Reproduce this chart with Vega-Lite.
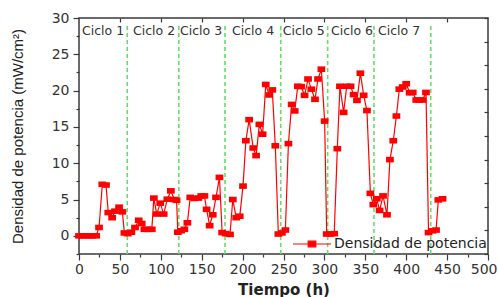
{
  "$schema": "https://vega.github.io/schema/vega-lite/v6.json",
  "width": 409,
  "height": 236,
  "autosize": "none",
  "padding": {"left": 79, "top": 18, "right": 10, "bottom": 43},
  "config": {
    "view": {"stroke": "#3a3a3a", "strokeWidth": 1.5},
    "axis": {"domain": false, "grid": false, "tickColor": "#3a3a3a", "tickWidth": 1.2, "labelColor": "#333", "titleColor": "#222", "labelFont": "DejaVu Sans", "labelFontSize": 14, "titleFont": "DejaVu Sans", "labelFlush": false, "labelOverlap": false},
    "font": "DejaVu Sans"
  },
  "datasets": {
    "pd": [
      {"t": 0, "p": 0}, {"t": 4, "p": 0}, {"t": 8, "p": 0}, {"t": 12, "p": 0}, {"t": 16, "p": 0}, {"t": 21, "p": 0},
      {"t": 24.5, "p": 1.15}, {"t": 28.5, "p": 7.1}, {"t": 33, "p": 7.0}, {"t": 35.8, "p": 3.2}, {"t": 40.5, "p": 2.5},
      {"t": 44, "p": 3.4}, {"t": 49, "p": 3.95}, {"t": 53, "p": 3.3}, {"t": 55.5, "p": 0.4}, {"t": 59.5, "p": 0.3},
      {"t": 64, "p": 0.5}, {"t": 68.5, "p": 1.15}, {"t": 73, "p": 2.15}, {"t": 76.6, "p": 1.7}, {"t": 80, "p": 0.9},
      {"t": 84.5, "p": 0.9}, {"t": 89, "p": 0.9}, {"t": 91.5, "p": 5.2}, {"t": 95, "p": 3.0}, {"t": 99.3, "p": 4.5},
      {"t": 103.5, "p": 3.0}, {"t": 108, "p": 5.05}, {"t": 112.3, "p": 6.2}, {"t": 116.5, "p": 5.0}, {"t": 119.3, "p": 4.9},
      {"t": 120.8, "p": 0.5}, {"t": 124.8, "p": 0.7}, {"t": 128.8, "p": 0.9}, {"t": 132.5, "p": 1.8}, {"t": 136, "p": 5.3},
      {"t": 141, "p": 5.15}, {"t": 146, "p": 5.2}, {"t": 149.5, "p": 5.5}, {"t": 153.3, "p": 5.5}, {"t": 156, "p": 3.65},
      {"t": 159.7, "p": 1.4}, {"t": 163.5, "p": 2.9}, {"t": 167.5, "p": 5.3}, {"t": 171.7, "p": 8.05}, {"t": 175, "p": 0.45},
      {"t": 179.3, "p": 0.3}, {"t": 184.6, "p": 0.2}, {"t": 188, "p": 5.0}, {"t": 192.2, "p": 2.5}, {"t": 196.5, "p": 2.7},
      {"t": 200.5, "p": 6.85}, {"t": 204, "p": 13.1}, {"t": 208, "p": 16.0}, {"t": 213, "p": 12.1}, {"t": 216.5, "p": 11.05},
      {"t": 220.5, "p": 15.35}, {"t": 224.5, "p": 14.0}, {"t": 228.3, "p": 20.85}, {"t": 232.5, "p": 19.4}, {"t": 236.3, "p": 20.1},
      {"t": 240, "p": 12.4}, {"t": 243.7, "p": 0.25}, {"t": 248, "p": 0.4}, {"t": 252.3, "p": 0.8}, {"t": 256, "p": 12.7},
      {"t": 260, "p": 18.1}, {"t": 263.7, "p": 17.2}, {"t": 267.5, "p": 20.6}, {"t": 271.5, "p": 20.55}, {"t": 275.8, "p": 19.35},
      {"t": 280, "p": 21.6}, {"t": 284, "p": 20.2}, {"t": 288.5, "p": 18.8}, {"t": 292.2, "p": 21.6}, {"t": 296.3, "p": 22.95},
      {"t": 300.3, "p": 15.8}, {"t": 302.8, "p": 0.25}, {"t": 307.3, "p": 0.25}, {"t": 312, "p": 0.3}, {"t": 315.8, "p": 12.0},
      {"t": 319, "p": 20.6}, {"t": 323.5, "p": 17.0}, {"t": 327.3, "p": 20.6}, {"t": 332, "p": 20.6}, {"t": 335.7, "p": 19.45},
      {"t": 339.8, "p": 18.65}, {"t": 344, "p": 22.4}, {"t": 348, "p": 19.35}, {"t": 352, "p": 17.25}, {"t": 356.2, "p": 5.85},
      {"t": 359.8, "p": 4.3}, {"t": 364, "p": 5.1}, {"t": 367.5, "p": 3.5}, {"t": 371.7, "p": 5.5}, {"t": 376.5, "p": 2.9},
      {"t": 380.1, "p": 10.5}, {"t": 384.2, "p": 13.1}, {"t": 388, "p": 16.5}, {"t": 391.6, "p": 20.2}, {"t": 395.7, "p": 20.5},
      {"t": 400, "p": 20.95}, {"t": 404.2, "p": 19.7}, {"t": 408, "p": 19.75}, {"t": 412.3, "p": 18.7}, {"t": 416, "p": 18.7},
      {"t": 420, "p": 18.7}, {"t": 424.2, "p": 19.75}, {"t": 427.3, "p": 0.45}, {"t": 432.4, "p": 0.7}, {"t": 436.5, "p": 0.8},
      {"t": 439.3, "p": 4.95}, {"t": 444.5, "p": 5.1}
    ],
    "ciclos": [
      {"ciclo": "Ciclo 1", "ini": 3.7, "fin": 59},
      {"ciclo": "Ciclo 2", "ini": 66, "fin": 122},
      {"ciclo": "Ciclo 3", "ini": 123.5, "fin": 178.5},
      {"ciclo": "Ciclo 4", "ini": 187, "fin": 246.6},
      {"ciclo": "Ciclo 5", "ini": 249, "fin": 304},
      {"ciclo": "Ciclo 6", "ini": 308, "fin": 360.6},
      {"ciclo": "Ciclo 7", "ini": 365.5, "fin": 430}
    ]
  },
  "layer": [
    {
      "data": {"name": "ciclos"},
      "mark": {"type": "rule", "color": "#66dd66", "strokeDash": [4, 3], "strokeWidth": 1.6},
      "encoding": {
        "x": {"field": "fin", "type": "quantitative", "scale": {"domain": [0, 500], "nice": false, "zero": false}, "axis": null},
        "y": {"datum": -2.5, "type": "quantitative", "scale": {"domain": [-2.5, 30], "nice": false, "zero": false}, "axis": null},
        "y2": {"datum": 29.3}
      }
    },
    {
      "data": {"name": "ciclos"},
      "mark": {"type": "text", "align": "left", "baseline": "middle", "fontSize": 12.5, "font": "DejaVu Sans", "color": "#333"},
      "encoding": {
        "x": {"field": "ini", "type": "quantitative", "axis": null},
        "y": {"datum": 28.2, "type": "quantitative", "axis": null},
        "text": {"field": "ciclo"}
      }
    },
    {
      "data": {"name": "pd"},
      "mark": {"type": "line", "strokeWidth": 1.2, "point": {"shape": "M-1,-0.72H1V0.72H-1Z", "size": 60, "filled": true, "opacity": 1}},
      "encoding": {
        "x": {"field": "t", "type": "quantitative", "scale": {"domain": [0, 500], "nice": false, "zero": false},
          "axis": {"orient": "bottom", "values": [0, 50, 100, 150, 200, 250, 300, 350, 400, 450, 500], "tickSize": 6, "labelPadding": 2,
            "labelAlign": {"condition": {"test": "datum.value >= 500", "value": "right"}, "value": "center"},
            "labelOffset": {"condition": {"test": "datum.value >= 500", "value": 9}, "value": 0},
            "title": "Tiempo (h)", "titleFontSize": 15, "titleFontWeight": "bold", "titlePadding": 6}},
        "y": {"field": "p", "type": "quantitative", "scale": {"domain": [-2.5, 30], "nice": false, "zero": false},
          "axis": {"orient": "left", "values": [0, 5, 10, 15, 20, 25, 30], "tickSize": 6, "labelPadding": 4, "title": "Densidad de potencia (mW/cm²)", "titleFont": "Liberation Sans", "titleFontSize": 15, "titleFontWeight": "normal", "titlePadding": 26}},
        "color": {"datum": "Densidad de potencia", "type": "nominal", "scale": {"range": ["#ff0000"]},
          "legend": {"orient": "none", "legendX": 213, "legendY": 206, "title": null, "padding": 0,
            "symbolType": "M-1,0H1M-0.2,-0.15H0.2V0.15H-0.2Z", "symbolSize": 1444, "symbolStrokeWidth": 1.2,
            "symbolFillColor": "#ff0000", "symbolStrokeColor": "#ff0000", "labelFont": "DejaVu Sans", "labelFontSize": 14, "labelColor": "#222", "labelOffset": 2,
            "encode": {"symbols": {"update": {"fill": {"value": "#ff0000"}, "stroke": {"value": "#ff0000"}, "opacity": {"value": 1}}}}}}
      }
    },
    {
      "data": {"name": "pd"},
      "mark": {"type": "point", "opacity": 0},
      "encoding": {
        "x": {"field": "t", "type": "quantitative",
          "axis": {"orient": "bottom", "values": [25, 75, 125, 175, 225, 275, 325, 375, 425, 475], "tickSize": 3, "labels": false, "title": null}},
        "y": {"field": "p", "type": "quantitative",
          "axis": {"orient": "left", "values": [-2.5, 2.5, 7.5, 12.5, 17.5, 22.5, 27.5], "tickSize": 3, "labels": false, "title": null}}
      }
    },
    {
      "data": {"name": "pd"},
      "mark": {"type": "point", "opacity": 0},
      "encoding": {
        "x": {"field": "t", "type": "quantitative",
          "axis": {"orient": "top", "values": [50, 100, 150, 200, 250, 300, 350, 400, 450], "tickSize": -4, "labels": false, "title": null}},
        "y": {"field": "p", "type": "quantitative",
          "axis": {"orient": "right", "values": [-2.5, 0.75, 4, 7.25, 10.5, 13.75, 17, 20.25, 23.5, 26.75, 30], "tickSize": -4, "labels": false, "title": null}}
      }
    }
  ],
  "resolve": {"axis": {"x": "independent", "y": "independent"}}
}
